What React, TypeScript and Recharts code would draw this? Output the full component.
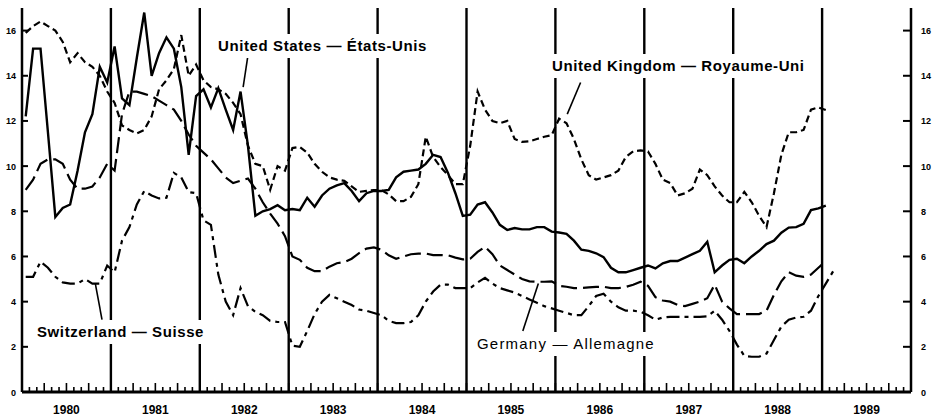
import React from "react";
import { LineChart, Line, XAxis, YAxis, ReferenceLine } from "recharts";

// short-term interest rates, monthly, Jan 1980 onwards (per cent)
const years = ["1980", "1981", "1982", "1983", "1984", "1985", "1986", "1987", "1988", "1989"];
const yTicks = [0, 2, 4, 6, 8, 10, 12, 14, 16];

const usRates = [
  12.2, 15.2, 15.2, 11.5, 7.75, 8.15, 8.3, 9.8, 11.5, 12.3, 14.4, 13.7,
  15.3, 13.0, 12.7, 14.8, 16.8, 14.0, 15.0, 15.7, 15.2, 13.5, 10.5, 13.1,
  13.4, 12.6, 13.45, 12.5, 11.6, 13.3, 10.9, 7.8, 8.0, 8.1, 8.27, 8.05,
  8.1, 8.05, 8.6, 8.2, 8.7, 9.0, 9.15, 9.25, 8.9, 8.45, 8.8, 8.9,
  8.9, 8.95, 9.5, 9.75, 9.8, 9.85, 10.1, 10.5, 10.4, 9.7, 8.8, 7.8,
  7.85, 8.3, 8.4, 7.95, 7.4, 7.17, 7.26, 7.2, 7.2, 7.3, 7.3, 7.1,
  7.06, 7.0, 6.7, 6.3, 6.25, 6.14, 5.97, 5.5, 5.3, 5.3, 5.4, 5.5,
  5.6, 5.47, 5.7, 5.8, 5.8, 5.95, 6.1, 6.25, 6.65, 5.3, 5.6, 5.85,
  5.9, 5.7, 6.0, 6.25, 6.55, 6.7, 7.05, 7.28, 7.3, 7.45, 8.05, 8.13,
  8.25,
];

const ukRates = [
  15.9, 16.2, 16.4, 16.2, 16.0, 15.5, 14.6, 15.0, 14.6, 14.4, 14.0, 13.3,
  12.8, 11.8, 11.6, 11.45, 11.6, 12.2, 13.4, 13.8, 14.3, 15.8, 14.0, 14.5,
  13.8, 13.5, 13.4, 13.2, 12.8, 12.3, 10.9, 10.1, 10.0, 8.95, 10.0, 9.8,
  10.8, 10.85, 10.6, 10.1, 9.75, 9.5, 9.4, 9.35, 9.1, 8.86, 8.9, 8.94,
  8.94, 8.75, 8.45, 8.45, 8.64, 9.2, 11.3, 10.4, 9.96, 9.6, 9.2, 9.2,
  10.9, 13.3, 12.5, 12.0, 11.9, 12.0, 11.2, 11.07, 11.1, 11.2, 11.3, 11.37,
  12.1, 11.9, 11.2, 10.3, 9.6, 9.4, 9.5, 9.6, 9.8, 10.4, 10.65, 10.7,
  10.65, 10.1, 9.4, 9.25, 8.7, 8.8, 9.0, 9.85, 9.6, 9.1, 8.7, 8.4,
  8.4, 8.86, 8.4, 7.8, 7.3, 8.8, 10.5, 11.5, 11.5, 11.6, 12.5, 12.6,
  12.48,
];

const germanyRates = [
  8.95, 9.4, 10.1, 10.3, 10.3, 10.1, 9.4, 9.0, 9.0, 9.1, 9.5, 10.1,
  9.8, 12.3, 13.3, 13.3, 13.2, 13.1, 12.9, 12.7, 12.5, 12.0, 11.4, 10.9,
  10.6, 10.3, 9.9, 9.5, 9.25, 9.35, 9.45, 9.0, 8.4, 7.9, 7.45, 6.9,
  6.0, 5.85, 5.5, 5.35, 5.35, 5.55, 5.7, 5.75, 5.9, 6.15, 6.35, 6.4,
  6.3, 6.05, 5.9, 6.0, 6.1, 6.13, 6.13, 6.06, 6.06, 6.05, 5.95, 5.87,
  5.9, 6.2, 6.43, 6.1, 5.6, 5.4, 5.2, 5.0, 4.9, 4.88, 4.88, 4.9,
  4.7, 4.66, 4.6, 4.6, 4.63, 4.65, 4.66, 4.6, 4.6, 4.65, 4.75, 4.88,
  4.7, 4.2, 4.05, 4.0, 3.85, 3.8, 3.9, 4.0, 4.15, 4.75, 4.0, 3.7,
  3.45, 3.45, 3.45, 3.45, 3.6, 4.3, 4.9, 5.3, 5.15, 5.1, 5.2, 5.5,
  5.8,
];

const swissRates = [
  5.1, 5.1, 5.77, 5.5, 5.1, 4.85, 4.8, 4.8, 5.0, 4.8, 4.8, 5.6,
  5.3, 6.7, 7.3, 8.3, 8.9, 8.7, 8.57, 8.6, 9.7, 9.5, 8.85, 8.8,
  7.6, 7.4, 5.2, 4.0, 3.4, 4.6, 3.8, 3.55, 3.4, 3.15, 3.1, 3.1,
  2.05, 2.0, 2.7, 3.45, 4.0, 4.3, 4.15, 4.0, 3.85, 3.65, 3.6, 3.5,
  3.4, 3.15, 3.05, 3.05, 3.1, 3.4, 4.0, 4.45, 4.75, 4.75, 4.6, 4.6,
  4.6, 4.85, 5.05, 4.8, 4.6, 4.5, 4.4, 4.25, 4.1, 3.95, 3.8, 3.7,
  3.6, 3.5, 3.4, 3.4, 3.8, 4.25, 4.35, 4.0, 3.75, 3.6, 3.6, 3.55,
  3.4, 3.2, 3.3, 3.33, 3.33, 3.33, 3.33, 3.33, 3.35, 3.6, 3.2, 2.7,
  2.1, 1.6, 1.56, 1.56, 1.7, 2.3, 2.9, 3.2, 3.3, 3.33, 3.6, 4.25,
  4.8, 5.35,
];

const monthTicks = Array.from({ length: 121 }, (_, i) => i);
const yearBreaks = [12, 24, 36, 48, 60, 72, 84, 96, 108];

const data = swissRates.map((_, i) => ({
  m: i + 0.5,
  us: usRates[i] ?? null,
  uk: ukRates[i] ?? null,
  de: germanyRates[i] ?? null,
  ch: swissRates[i] ?? null,
}));

// pointers from the labels to their series, in data units
const pointers = [
  [{ x: 30.5, y: 14.9 }, { x: 29.85, y: 13.5 }],
  [{ x: 75.4, y: 13.7 }, { x: 73.6, y: 12.3 }],
  [{ x: 67.6, y: 2.7 }, { x: 69.7, y: 4.8 }],
  [{ x: 10.8, y: 3.2 }, { x: 9.9, y: 4.8 }],
];

const labels = [
  { text: "United States — États-Unis", left: 215, top: 34, weight: "bold", spacing: 0.6 },
  { text: "United Kingdom — Royaume-Uni", left: 549, top: 54, weight: "bold", spacing: 0.6 },
  { text: "Switzerland — Suisse", left: 34, top: 320, weight: "bold", spacing: 0.6 },
  { text: "Germany — Allemagne", left: 474, top: 332, weight: "normal", spacing: 1.2 },
];

const font = "'Liberation Sans', Arial, sans-serif";

function LeftTick({ x, y, payload }: any) {
  return (
    <g>
      <line x1={x} x2={x + 6} y1={y} y2={y} stroke="#000" strokeWidth={2} />
      <text x={x - 6} y={y} dy={3.5} textAnchor="end" fontSize={9} fontWeight="bold" fontFamily={font} fill="#000">
        {payload.value}
      </text>
    </g>
  );
}

function RightTick({ x, y, payload }: any) {
  return (
    <g>
      <line x1={x} x2={x - 8} y1={y} y2={y} stroke="#000" strokeWidth={2} />
      <text x={x + 10} y={y} dy={3.5} textAnchor="start" fontSize={9} fontWeight="bold" fontFamily={font} fill="#000">
        {payload.value}
      </text>
    </g>
  );
}

function MonthTick({ x, y, payload }: any) {
  const m = payload.value as number;
  const len = m % 3 === 0 ? 9 : 5;
  return (
    <g>
      <line x1={x} x2={x} y1={y} y2={y - len} stroke="#000" strokeWidth={1.6} />
      {m % 12 === 6 && m < 120 ? (
        <text x={x} y={y + 22} textAnchor="middle" fontSize={12} fontWeight="bold" fontFamily={font} fill="#000">
          {years[Math.floor(m / 12)]}
        </text>
      ) : null}
    </g>
  );
}

export default function App() {
  return (
    <div style={{ position: "absolute", left: 0, top: 0, width: 944, height: 419, background: "#fff" }}>
      <LineChart width={944} height={419} data={data} margin={{ top: 8, right: 0, bottom: 0, left: 0 }}>
        <XAxis
          dataKey="m"
          type="number"
          domain={[0, 120]}
          ticks={monthTicks}
          interval={0}
          height={27}
          tickSize={0}
          tickMargin={0}
          tickLine={false}
          axisLine={{ stroke: "#000", strokeWidth: 3 }}
          tick={<MonthTick />}
        />
        <YAxis
          yAxisId="left"
          type="number"
          domain={[0, 17]}
          ticks={yTicks}
          width={22}
          tickSize={0}
          tickMargin={0}
          tickLine={false}
          axisLine={{ stroke: "#000", strokeWidth: 2.5 }}
          tick={<LeftTick />}
        />
        <YAxis
          yAxisId="right"
          type="number"
          orientation="right"
          domain={[0, 17]}
          ticks={yTicks}
          width={33}
          tickSize={0}
          tickMargin={0}
          tickLine={false}
          axisLine={{ stroke: "#000", strokeWidth: 2.5 }}
          tick={<RightTick />}
        />
        {yearBreaks.map((b) => (
          <ReferenceLine key={b} x={b} yAxisId="left" stroke="#000" strokeWidth={2.4} />
        ))}
        {pointers.map((seg, i) => (
          <ReferenceLine key={"p" + i} yAxisId="left" segment={seg} stroke="#000" strokeWidth={1.6} />
        ))}
        <Line yAxisId="right" type="linear" dataKey="us" stroke="none" dot={false} activeDot={false} legendType="none" isAnimationActive={false} />
        <Line yAxisId="left" type="linear" dataKey="uk" stroke="#000" strokeWidth={2.2} strokeDasharray="7 4" dot={false} isAnimationActive={false} />
        <Line yAxisId="left" type="linear" dataKey="de" stroke="#000" strokeWidth={2.2} strokeDasharray="16 6" dot={false} isAnimationActive={false} />
        <Line yAxisId="left" type="linear" dataKey="ch" stroke="#000" strokeWidth={2.2} strokeDasharray="13 5 4 5" dot={false} isAnimationActive={false} />
        <Line yAxisId="left" type="linear" dataKey="us" stroke="#000" strokeWidth={2.4} dot={false} isAnimationActive={false} />
      </LineChart>
      {labels.map((l) => (
        <div
          key={l.text}
          style={{
            position: "absolute",
            left: l.left,
            top: l.top,
            padding: "0 3px",
            lineHeight: "24px",
            fontSize: 15,
            letterSpacing: l.spacing,
            fontWeight: l.weight as any,
            fontFamily: font,
            background: "#fff",
            color: "#000",
            whiteSpace: "nowrap",
          }}
        >
          {l.text}
        </div>
      ))}
    </div>
  );
}
